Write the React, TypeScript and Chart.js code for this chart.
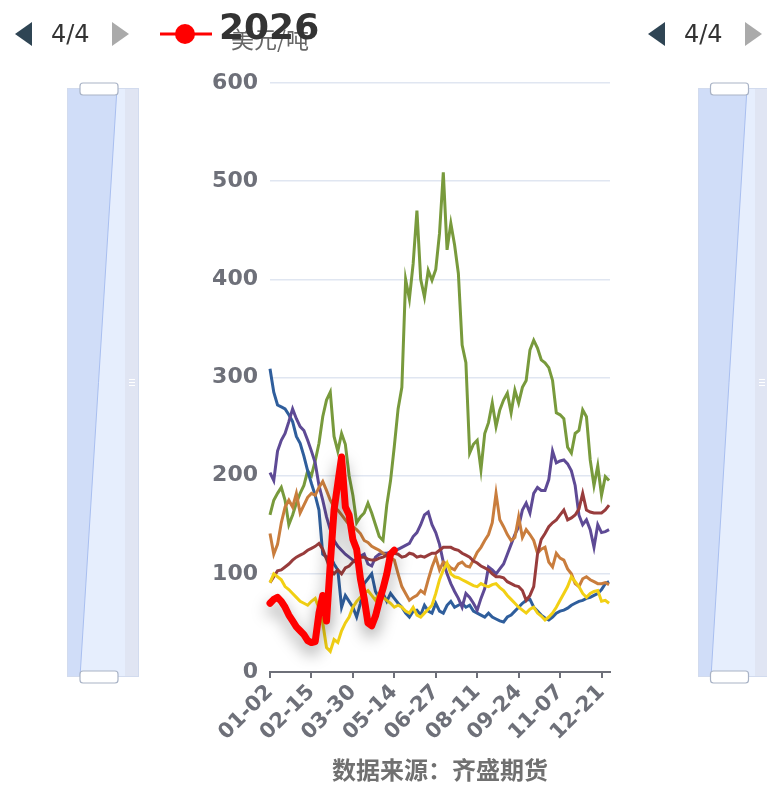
import React, { useEffect, useRef } from "react";
import { Chart, registerables } from "chart.js";

Chart.register(...registerables);

// x positions (day index from 01-02) of the sampled observations
const SAMPLE_DAYS: number[] = Array.from({ length: 91 }, (_, i) => i * 4);
const TICK_DAYS = [0, 44, 88, 132, 176, 220, 264, 308, 352];
const TICK_LABELS = ["01-02", "02-15", "03-30", "05-14", "06-27", "08-11", "09-24", "11-07", "12-21"];
const X_MAX = 361;
const Y_MAX = 600;
const Y_STEP = 100;

const SERIES_BLUE = [
  309, 285, 272, 270, 268, 262, 255, 240, 233, 220,
  205, 192, 180, 165, 120, 117, 118, 110, 104, 66,
  78, 72, 66, 56, 70, 90, 95, 100, 82, 75,
  80, 72, 80, 75, 70, 66, 60, 56, 62, 63,
  58, 68, 62, 60, 70, 62, 60, 68, 72, 66,
  68, 70, 66, 68, 62, 60, 58, 56, 60, 56,
  54, 52, 51, 56, 58, 62, 66, 70, 73, 74,
  66, 62, 58, 55, 53, 56, 60, 62, 63, 65,
  68, 70, 72, 73, 75, 76, 78, 80, 84, 90,
  92,
];
const SERIES_PURPLE = [
  203, 195, 225, 236, 243, 255, 268, 258, 250, 246,
  236, 225, 213, 190, 175, 158, 145, 134, 128, 124,
  120, 117, 114, 111, 118, 120, 110, 108, 117, 120,
  121, 121, 122, 124, 125, 127, 129, 131, 138, 142,
  150, 160, 163, 150, 142, 130, 112, 100, 90, 82,
  75, 66, 80, 76, 70, 63, 75, 85, 107, 104,
  100, 105, 110, 120, 130, 140, 148, 165, 172, 162,
  182, 188, 185, 185, 196, 225, 213, 215, 216, 212,
  205, 190, 160, 150, 155, 145, 127, 150, 142, 143,
  145,
];
const SERIES_GREEN = [
  160, 175, 182, 188, 175, 150, 160, 172, 182, 190,
  205, 200, 215, 233, 260, 277, 285, 240, 225, 243,
  232, 200, 180, 152, 158, 162, 172, 162, 150, 138,
  134, 170, 195, 230, 268, 290, 400, 380, 416, 470,
  400, 382, 409, 399, 410, 447, 509, 430, 457, 435,
  406, 333, 315, 223, 232, 236, 206, 243, 254, 274,
  250, 267, 277, 284, 264, 287, 274, 290, 297, 328,
  338, 330, 318, 315, 310, 297, 264, 262, 258, 229,
  223, 243, 246, 267, 260, 216, 190, 210, 180, 199,
  195,
];
const SERIES_ORANGE = [
  141, 120, 130, 152, 168, 175, 168, 182, 162, 170,
  178, 182, 180, 188, 194, 185, 175, 168, 165, 160,
  155, 150, 148, 145, 141, 134, 132, 128, 126, 124,
  121, 118, 116, 114, 100, 87, 80, 73, 76, 78,
  83, 80, 94, 107, 117, 104, 112, 110, 106, 104,
  110, 112, 108, 107, 114, 122, 127, 134, 140, 152,
  182, 155, 148, 140, 134, 137, 158, 137, 145, 140,
  134, 121, 125, 127, 112, 107, 121, 116, 114, 105,
  100, 90, 87, 95, 97, 94, 92, 90, 90, 91,
  89,
];
const SERIES_DARKRED = [
  91, 97, 103, 104, 107, 110, 114, 117, 119, 121,
  124, 126, 128, 131, 125, 115, 104, 100, 104, 100,
  106, 108, 112, 115, 117, 117, 115, 114, 114, 116,
  117, 119, 121, 121, 120, 117, 118, 121, 120, 117,
  118, 117, 119, 121, 121, 124, 127, 127, 127, 125,
  124, 121, 119, 117, 113, 111, 108, 106, 104, 100,
  97, 97, 96, 92, 90, 88, 87, 83, 73, 78,
  87, 120, 135, 141, 148, 152, 155, 160, 165, 155,
  157, 160, 166, 182, 165, 163, 162, 162, 162, 165,
  170,
];
const SERIES_YELLOW = [
  91, 100, 97, 94, 87, 84, 80, 76, 72, 70,
  68, 72, 75, 65, 50, 25, 21, 33, 30, 42,
  50, 56, 66, 72, 76, 80, 83, 78, 73, 80,
  76, 73, 70, 66, 68, 66, 62, 60, 66, 58,
  56, 60, 64, 68, 80, 94, 104, 111, 100, 97,
  96, 94, 92, 90, 88, 87, 90, 88, 87, 89,
  90, 86, 83, 78, 74, 70, 66, 63, 60, 64,
  66, 60, 57, 53, 56, 60, 66, 73, 80, 87,
  97, 92, 87, 80, 76, 80, 82, 83, 72, 73,
  70,
];
const SERIES_2026 = [
  70, 74, 76, 72, 66, 58, 52, 46, 42, 38,
  32, 30, 31, 60, 78, 52, 110, 165, 192, 219,
  168, 160, 135, 125, 95, 75, 50, 47, 57, 72,
  85, 100, 120, 124,
];

const SERIES = [
  { name: "2026", values: SERIES_2026, color: "#ff0000", width: 7 },
  { name: "s1", values: SERIES_YELLOW, color: "#f2d014", width: 3 },
  { name: "s2", values: SERIES_DARKRED, color: "#983c3c", width: 3 },
  { name: "s3", values: SERIES_ORANGE, color: "#c97d3d", width: 3 },
  { name: "s4", values: SERIES_PURPLE, color: "#5e4a95", width: 3 },
  { name: "s5", values: SERIES_BLUE, color: "#2f5e9c", width: 3 },
  { name: "s6", values: SERIES_GREEN, color: "#789a3c", width: 3 },
];

function roundRect(ctx: CanvasRenderingContext2D, x: number, y: number, w: number, h: number, r: number) {
  ctx.beginPath();
  ctx.moveTo(x + r, y);
  ctx.lineTo(x + w - r, y);
  ctx.quadraticCurveTo(x + w, y, x + w, y + r);
  ctx.lineTo(x + w, y + h - r);
  ctx.quadraticCurveTo(x + w, y + h, x + w - r, y + h);
  ctx.lineTo(x + r, y + h);
  ctx.quadraticCurveTo(x, y + h, x, y + h - r);
  ctx.lineTo(x, y + r);
  ctx.quadraticCurveTo(x, y, x + r, y);
  ctx.closePath();
}

function drawSlider(ctx: CanvasRenderingContext2D, left: number, bandRight: number, outerRight: number, top: number, bottom: number, diagTop: number, diagBot: number) {
  ctx.save();
  ctx.fillStyle = "#e0e5f3";
  ctx.fillRect(bandRight, top, outerRight - bandRight, bottom - top);
  ctx.fillStyle = "#e6eefd";
  ctx.fillRect(left, top, bandRight - left, bottom - top);
  ctx.fillStyle = "#d0ddf8";
  ctx.beginPath();
  ctx.moveTo(left, top);
  ctx.lineTo(diagTop, top);
  ctx.lineTo(diagBot, bottom);
  ctx.lineTo(left, bottom);
  ctx.closePath();
  ctx.fill();
  ctx.strokeStyle = "#a9bff0";
  ctx.lineWidth = 1;
  ctx.beginPath();
  ctx.moveTo(diagTop, top);
  ctx.lineTo(diagBot, bottom);
  ctx.stroke();
  ctx.strokeStyle = "#d2dbee";
  ctx.strokeRect(left + 0.5, top + 0.5, outerRight - left - 1, bottom - top - 1);
  const hx = (left + bandRight) / 2 - 19 + 3;
  for (const hy of [top - 5, bottom - 6]) {
    roundRect(ctx, hx, hy, 38, 12, 3);
    ctx.fillStyle = "#ffffff";
    ctx.fill();
    ctx.strokeStyle = "#a9b3c6";
    ctx.lineWidth = 1.2;
    ctx.stroke();
  }
  const gx = (bandRight + outerRight) / 2;
  const gy = (top + bottom) / 2;
  ctx.strokeStyle = "#ffffff";
  ctx.lineWidth = 1;
  for (const dy of [-3, 0, 3]) {
    ctx.beginPath();
    ctx.moveTo(gx - 3, gy + dy);
    ctx.lineTo(gx + 3, gy + dy);
    ctx.stroke();
  }
  ctx.restore();
}

const Pager = ({ left }: { left: number }) => (
  <div style={{ position: "absolute", left, top: 18, width: 120, height: 34 }}>
    <svg width={120} height={34} style={{ position: "absolute", left: 0, top: 0 }}>
      <polygon points="0,16 17,4 17,28" fill="#2f4554" />
      <polygon points="97,4 114,16 97,28" fill="#aaaaaa" />
    </svg>
    <div
      style={{
        position: "absolute",
        left: 36,
        top: 1,
        fontFamily: "'DejaVu Sans', sans-serif",
        fontSize: 24,
        color: "#333",
        lineHeight: "30px",
      }}
    >
      4/4
    </div>
  </div>
);

export default function App() {
  const ref = useRef<HTMLCanvasElement | null>(null);

  useEffect(() => {
    if (!ref.current) return;
    const shadowPlugin = {
      id: "redShadow",
      beforeDatasetDraw(chart: any, args: any) {
        if (args.index === 0) {
          const ctx = chart.ctx;
          ctx.save();
          ctx.shadowColor = "rgba(0,0,0,0.4)";
          ctx.shadowBlur = 16;
          ctx.shadowOffsetY = 8;
        }
      },
      afterDatasetDraw(chart: any, args: any) {
        if (args.index === 0) chart.ctx.restore();
      },
    };
    const sliderPlugin = {
      id: "sliders",
      beforeDraw(chart: any) {
        const ctx = chart.ctx;
        drawSlider(ctx, 67, 125, 139, 88, 677, 117, 80);
        drawSlider(ctx, 698, 755, 769, 88, 677, 747, 711);
      },
    };

    const chart = new Chart(ref.current, {
      type: "line",
      data: {
        datasets: SERIES.map((s, si) => ({
          label: s.name,
          data: s.values.map((v, i) => ({ x: SAMPLE_DAYS[i], y: v })),
          borderColor: s.color,
          backgroundColor: s.color,
          borderWidth: s.width,
          borderJoinStyle: si === 0 ? "round" : "miter",
          borderCapStyle: si === 0 ? "round" : "butt",
          pointRadius: 0,
          tension: 0,
          fill: false,
          clip: false as any,
          order: si === 0 ? 0 : 1,
        })),
      },
      options: {
        animation: false,
        responsive: false,
        maintainAspectRatio: false,
        devicePixelRatio: 1,
        layout: { padding: { left: 200, right: 157, top: 83, bottom: 33 } },
        plugins: {
          legend: { display: false },
          tooltip: { enabled: false },
        },
        scales: {
          x: {
            type: "linear",
            min: 0,
            max: X_MAX,
            afterBuildTicks: (scale: any) => {
              scale.ticks = TICK_DAYS.map((v) => ({ value: v }));
            },
            afterFit: (scale: any) => {
              scale.height = 80;
            },
            ticks: {
              autoSkip: false,
              maxRotation: 45,
              minRotation: 45,
              padding: 2,
              color: "#6e7079",
              font: { family: "'DejaVu Sans', sans-serif", size: 21, weight: "bold" },
              callback: (value: any) => {
                const idx = TICK_DAYS.indexOf(Number(value));
                return idx >= 0 ? TICK_LABELS[idx] : "";
              },
            },
            grid: {
              display: true,
              drawOnChartArea: false,
              drawTicks: true,
              tickLength: 6,
              color: "#6e7079",
              lineWidth: 2,
            },
            border: { display: true, color: "#6e7079", width: 2 },
          },
          y: {
            type: "linear",
            min: 0,
            max: Y_MAX,
            afterFit: (scale: any) => {
              scale.width = 70;
            },
            ticks: {
              stepSize: Y_STEP,
              padding: 12,
              color: "#6e7079",
              font: { family: "'DejaVu Sans', sans-serif", size: 22, weight: "bold" },
            },
            grid: {
              color: (c: any) => (c.tick && c.tick.value === 0 ? "rgba(0,0,0,0)" : "#e0e6f1"),
              lineWidth: 1.5,
              drawTicks: false,
            },
            border: { display: false },
          },
        },
      },
      plugins: [sliderPlugin, shadowPlugin],
    } as any);
    return () => chart.destroy();
  }, []);

  return (
    <div
      style={{
        position: "absolute",
        left: 0,
        top: 0,
        width: 767,
        height: 785,
        background: "#ffffff",
        overflow: "hidden",
      }}
    >
      <canvas ref={ref} width={767} height={785} style={{ position: "absolute", left: 0, top: 0, width: 767, height: 785 }} />
      <Pager left={15} />
      <Pager left={648} />
      <svg width={60} height={30} style={{ position: "absolute", left: 158, top: 19 }}>
        <line x1={2} y1={15} x2={54} y2={15} stroke="#ff0000" strokeWidth={3} />
        <circle cx={27} cy={15} r={10} fill="#ff0000" />
      </svg>
      <div
        style={{
          position: "absolute",
          left: 231,
          top: 24,
          fontFamily: "'Noto Sans CJK SC', sans-serif",
          fontSize: 23,
          color: "#666",
          lineHeight: "28px",
          whiteSpace: "nowrap",
        }}
      >
        美元/吨
      </div>
      <div
        style={{
          position: "absolute",
          left: 219,
          top: 5,
          fontFamily: "'DejaVu Sans', sans-serif",
          fontWeight: "bold",
          fontSize: 36,
          color: "#333",
          lineHeight: "44px",
          whiteSpace: "nowrap",
        }}
      >
        2026
      </div>
      <div
        style={{
          position: "absolute",
          left: 290,
          width: 300,
          top: 754,
          textAlign: "center",
          fontFamily: "'Noto Sans CJK SC', sans-serif",
          fontWeight: "bold",
          fontSize: 24,
          color: "#707070",
          lineHeight: "30px",
          whiteSpace: "nowrap",
        }}
      >
        数据来源：齐盛期货
      </div>
    </div>
  );
}
